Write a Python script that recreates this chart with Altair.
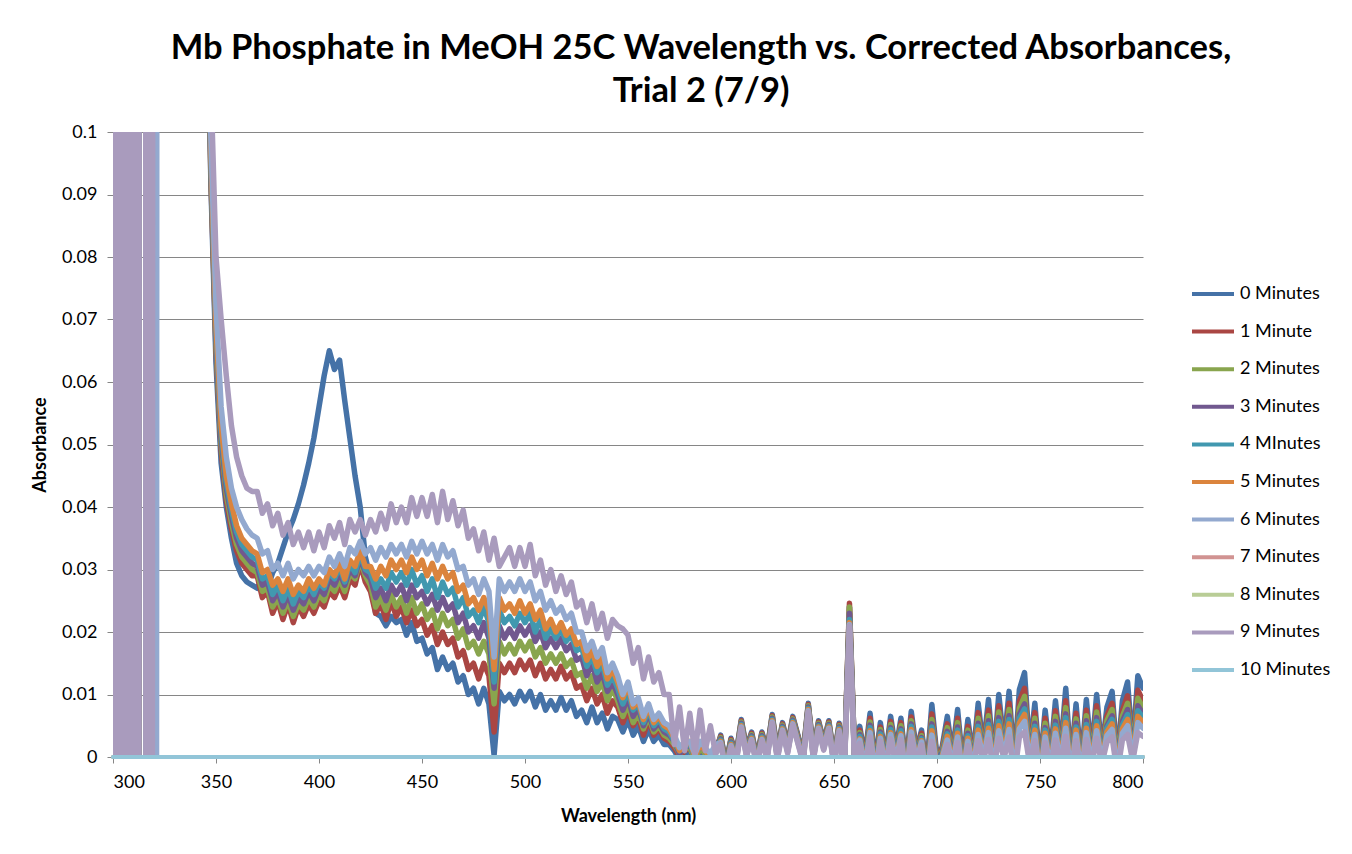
import numpy as np
import pandas as pd
import altair as alt

SERIES = ["0 Minutes", "1 Minute", "2 Minutes", "3 Minutes", "4 MInutes", "5 Minutes",
          "6 Minutes", "7 Minutes", "8 Minutes", "9 Minutes", "10 Minutes"]
COLORS = ["#4572A7", "#AA4643", "#89A54E", "#71588F", "#4198AF", "#DB843D",
          "#93A9CF", "#D19392", "#B9CD96", "#A99BBD", "#92C5D8"]

X_TICKS = [300, 350, 400, 450, 500, 550, 600, 650, 700, 750, 800]
Y_TICKS = [0, 0.01, 0.02, 0.03, 0.04, 0.05, 0.06, 0.07, 0.08, 0.09, 0.1]

# 300-344 nm (mAU): off-scale oscillation of the blank region
LEFT_WL = [300, 301, 302, 303, 304, 305, 306, 307, 308, 309, 310, 311, 312, 313,
           315.5, 316.5, 317.5, 318.5, 319.5, 320.5, 321.5,
           323, 324, 325, 326, 327, 328, 329, 330, 331, 332, 333, 334, 335, 336,
           337, 338, 339, 340, 341, 342, 343, 344]
LEFT_BAND = [-500, 500, -500, 500, -500, 500, -500, 500, -500, 500, -500, 500, -500, 500,
             500, -500, 500, -500, 300, 300, 300,
             300, 300, 300, 300, 300, 300, 300, 300, 300, 300, 300, 300, 300, 300,
             300, 300, 300, 300, 300, 300, 300, 300]
LEFT_BAND_6 = [-500, 500, -500, 500, -500, 500, -500, 500, -500, 500, -500, 500, -500, 500,
               500, -500, 500, -500, 500, -500, 300,
               300, 300, 300, 300, 300, 300, 300, 300, 300, 300, 300, 300, 300, 300,
               300, 300, 300, 300, 300, 300, 300, 300]
LEFT_ZERO = [0] * len(LEFT_WL)

# 345-800 nm, 2.5 nm steps (mAU)
MAIN_WL = [float(w) for w in np.arange(345.0, 800.001, 2.5)]

ABS_0 = [140, 92, 63, 47, 40, 35, 31, 29, 28, 27.5,
         27, 28.5, 27, 29.5, 31, 33.5, 36, 38, 40.5, 43.5,
         47, 51, 56, 61, 65, 62, 63.5, 57, 51, 45,
         40, 32, 28.5, 23, 22.5, 21, 22.5, 21.5, 22, 19.5,
         21.5, 18.5, 19, 16.5, 17.5, 14, 16, 14, 15, 12,
         13, 10, 11, 8.5, 11, 8.5, 0.3, 10.5, 9, 10,
         8.5, 10.5, 9, 10.5, 8, 10, 7.5, 9, 7.5, 9.5,
         7.5, 9, 6.5, 7.5, 5.5, 8, 5.5, 7, 4.5, 6.5,
         6, 4, 6, 3.5, 5, 2.5, 4.5, 2.5, 3.5, 2,
         2, 1, -0.5, 0.5, 1, -1, 1, 0, -1, 0.5,
         3.5, -1, 3, 0.5, 6, 1.5, 4, 0, 4, 1,
         6.8, 1, 5.5, 2, 6.5, 3.5, 0.5, 8.6, 1, 5.8,
         2.5, 5.8, 0, 5.4, -1, 24, 0.5, 4.9, 0, 7,
         -1, 5.5, 0, 6.5, 1, 6.2, -1.5, 7.3, 1, 4.3,
         -2, 8.4, 0, 1.6, 6.5, 0.5, 7.6, -1, 6, 0,
         8.6, 1.5, 9.2, 0, 10, 2, 10.5, -1, 10.8, 13.5,
         1, 8.6, -1.5, 7.5, 0, 9, 1, 11, -1, 8.5,
         -1, 9.2, 0.5, 10, 1, 8, 10.5, -0.5, 9, 12,
         1.5, 13, 11]

ABS_1 = [140, 93, 65, 49, 41, 36.5, 33, 31, 30, 29,
         29, 25.5, 26.5, 23, 25, 22, 24.5, 21.5, 24, 22.5,
         24.5, 23, 25, 24, 26.5, 25.5, 27.5, 25.5, 28.5, 27.5,
         31, 28, 26.5, 23, 24.5, 22, 25, 22.5, 24, 21.5,
         23.5, 21, 22, 19.5, 21, 18, 20, 18, 19, 16,
         17, 14, 15, 12.5, 15, 13, 4, 15, 13.5, 15,
         13.5, 15.5, 14, 15.5, 13, 15, 12.5, 14, 12.5, 14.5,
         12.5, 13.5, 11, 11.5, 9, 11, 8.5, 10, 7, 9,
         8, 5.5, 7.5, 5, 6.5, 3.5, 6, 3.5, 4.5, 3,
         2.5, 1.5, 0, 1, 1.5, -0.5, 1.5, 0.5, -0.5, 1,
         3.3, -1.2, 2.8, 0.3, 5.8, 1.3, 3.8, -0.2, 3.8, 0.8,
         6.6, 0.8, 5.3, 1.8, 6.3, 3.3, 0.3, 8.4, 0.8, 5.6,
         2.3, 5.6, -0.2, 5.2, -1.2, 24.6, 0.3, 4.3, -0.3, 6.2,
         -1.3, 4.8, -0.3, 5.7, 0.7, 5.5, -1.8, 6.4, 0.7, 3.8,
         -2.3, 6.9, -0.3, 1.3, 5.3, 0.2, 6.2, -1.3, 4.9, -0.3,
         7.1, 1.2, 7.5, -0.3, 8.2, 1.6, 8.6, -1.3, 8.9, 11.0,
         0.7, 7.1, -1.8, 6.2, -0.3, 7.4, 0.7, 9.0, -1.3, 7.0,
         -1.3, 7.5, 0.2, 8.2, 0.7, 6.6, 8.6, -0.8, 7.4, 9.8,
         1.2, 10.7, 9.0]

ABS_2 = [140, 94, 66, 50, 42, 37.5, 34, 32, 31, 30,
         29.5, 26.5, 27, 24, 25.5, 23, 25, 22.5, 24.5, 23.5,
         25.5, 24, 26, 25, 27.5, 26.5, 28.5, 26.5, 29.5, 28.5,
         31.5, 29, 27.5, 24, 25.5, 23.5, 26, 24, 25.5, 23,
         25.5, 23, 24.5, 22, 23.5, 20.5, 23, 21, 22, 19,
         20.5, 17.5, 18.5, 16.5, 18.5, 16.5, 8.5, 18.5, 16.5, 18,
         16.5, 18.5, 17, 18.5, 16, 17.5, 15, 16.5, 15, 16.5,
         14.5, 15.5, 13, 13.5, 11, 13, 10.5, 12, 9, 11,
         9, 6.5, 8.5, 5.5, 7, 4.5, 6.5, 4, 5, 3.5,
         3, 2, 0.5, 1.5, 1.5, -0.5, 1.5, 0.5, -0.5, 1,
         3.1, -1.4, 2.6, 0.1, 5.6, 1.1, 3.6, -0.4, 3.6, 0.6,
         6.4, 0.6, 5.1, 1.6, 6.1, 3.1, 0.1, 8.2, 0.6, 5.4,
         2.1, 5.4, -0.4, 5.0, -1.4, 24, 0.1, 3.9, -0.6, 5.6,
         -1.6, 4.4, -0.6, 5.2, 0.4, 5.0, -2.1, 5.8, 0.4, 3.4,
         -2.6, 6.0, -0.6, 1.0, 4.7, -0.1, 5.5, -1.6, 4.3, -0.6,
         6.2, 0.9, 6.6, -0.6, 7.2, 1.3, 7.6, -1.6, 7.8, 9.7,
         0.4, 6.2, -2.1, 5.4, -0.6, 6.5, 0.4, 7.9, -1.6, 6.1,
         -1.6, 6.6, -0.1, 7.2, 0.4, 5.8, 7.6, -1.1, 6.5, 8.6,
         0.9, 9.4, 7.9]

ABS_3 = [140, 95, 67, 51, 43, 38.5, 35, 33, 32, 31,
         30.5, 27.5, 28, 25, 26.5, 24, 26, 23.5, 25.5, 24.5,
         26.5, 25, 27, 26, 28.5, 27.5, 29.5, 27.5, 30, 29,
         32, 29.5, 28.5, 25.5, 27, 25, 27.5, 26, 27.5, 25,
         27.5, 25.5, 26.5, 24.5, 26, 23.5, 25.5, 23.5, 24.5, 21.5,
         23, 20, 21, 19, 21.5, 19, 11, 21, 19, 20.5,
         19, 21, 19.5, 21, 18.5, 20, 17.5, 19, 17.5, 19,
         17, 18, 15.5, 16, 13, 15, 12, 13.5, 10.5, 12,
         10, 7.5, 9.5, 6.5, 8, 5, 7, 4.5, 5.5, 4,
         3.5, 2.5, 0.5, 1.5, 2, 0, 2, 1, 0, 1.5,
         2.9, -1.6, 2.4, -0.1, 5.4, 0.9, 3.4, -0.6, 3.4, 0.4,
         6.2, 0.4, 4.9, 1.4, 5.9, 2.9, -0.1, 8.0, 0.4, 5.2,
         1.9, 5.2, -0.6, 4.8, -1.6, 23, -0.1, 3.6, -0.9, 5.1,
         -1.9, 4.0, -0.9, 4.7, 0.1, 4.5, -2.4, 5.3, 0.1, 3.1,
         -2.9, 5.3, -0.9, 0.7, 4.1, -0.4, 4.8, -1.9, 3.8, -0.9,
         5.4, 0.6, 5.8, -0.9, 6.3, 1.0, 6.6, -1.9, 6.8, 8.5,
         0.1, 5.4, -2.4, 4.7, -0.9, 5.7, 0.1, 6.9, -1.9, 5.4,
         -1.9, 5.8, -0.4, 6.3, 0.1, 5.0, 6.6, -1.4, 5.7, 7.6,
         0.6, 8.2, 6.9]

ABS_4 = [140, 96, 68, 52, 44, 39.5, 36, 34, 33, 32,
         31.5, 28.5, 29, 26, 27.5, 25, 27, 24.5, 26.5, 25.5,
         27.5, 26, 28, 27, 29.5, 28.5, 30.5, 28, 31, 29.5,
         32.5, 30, 29.5, 27, 28.5, 27, 29.5, 28, 29.5, 27.5,
         30, 27.5, 29, 26.5, 28.5, 25.5, 28, 26, 27, 24,
         25.5, 22.5, 23.5, 21.5, 24, 21.5, 12, 23.5, 21.5, 22.5,
         21, 23, 21.5, 23, 20, 22, 19, 20.5, 19, 20.5,
         18.5, 19.5, 17, 17.5, 14.5, 16, 13.5, 15, 11.5, 13,
         11, 8.5, 10.5, 7.5, 8.5, 5.5, 7.5, 5, 6, 4.5,
         4, 2.5, 1, 2, 2, 0, 2, 1, 0, 1.5,
         2.7, -1.8, 2.2, -0.3, 5.2, 0.7, 3.2, -0.8, 3.2, 0.2,
         6.0, 0.2, 4.7, 1.2, 5.7, 2.7, -0.3, 7.8, 0.2, 5.0,
         1.7, 5.0, -0.8, 4.6, -1.8, 22, -0.3, 3.3, -1.2, 4.7,
         -2.2, 3.7, -1.2, 4.4, -0.2, 4.2, -2.7, 4.9, -0.2, 2.9,
         -3.2, 4.8, -1.2, 0.4, 3.7, -0.7, 4.3, -2.2, 3.4, -1.2,
         4.9, 0.3, 5.2, -1.2, 5.7, 0.7, 6.0, -2.2, 6.2, 7.7,
         -0.2, 4.9, -2.7, 4.3, -1.2, 5.1, -0.2, 6.3, -2.2, 4.8,
         -2.2, 5.2, -0.7, 5.7, -0.2, 4.6, 6.0, -1.7, 5.1, 6.8,
         0.3, 7.4, 6.3]

ABS_5 = [140, 97, 69, 53, 45, 40.5, 37, 35, 34, 33,
         32.5, 29.5, 30, 27.5, 28.5, 26.5, 28.5, 26, 27.5, 26.5,
         28.5, 27, 28.5, 27.5, 30, 29, 31, 28.5, 31.5, 30.5,
         33, 30.5, 30.5, 28.5, 30.5, 29, 31.5, 30, 31.5, 29.5,
         32, 30, 31.5, 29, 31, 28.5, 30.5, 28.5, 29.5, 26.5,
         27.5, 24.5, 25.5, 23.5, 25.5, 23.5, 14, 25.5, 23.5, 24.5,
         23, 25, 23, 24.5, 22, 23.5, 20.5, 22, 20, 21.5,
         19.5, 20.5, 18, 18.5, 15.5, 17, 14.5, 16, 12.5, 14,
         12, 9.5, 11.5, 8, 9, 6, 8, 5.5, 6.5, 5,
         4.5, 3, 1, 2, 2.5, 0, 2, 1, 0, 1.5,
         2.5, -2, 2, -0.5, 5, 0.5, 3, -1, 3, 0,
         5.8, 0, 4.5, 1.0, 5.5, 2.5, -0.5, 7.6, 0, 4.8,
         1.5, 4.8, -1.0, 4.4, -2.0, 21.5, -0.5, 2.9, -1.5, 4.2,
         -2.5, 3.3, -1.5, 3.9, -0.5, 3.7, -3.0, 4.4, -0.5, 2.6,
         -3.5, 4.2, -1.5, 0.1, 3.3, -1.0, 3.8, -2.5, 3.0, -1.5,
         4.3, 0.0, 4.6, -1.5, 5.0, 0.4, 5.3, -2.5, 5.4, 6.8,
         -0.5, 4.3, -3.0, 3.8, -1.5, 4.5, -0.5, 5.5, -2.5, 4.3,
         -2.5, 4.6, -1.0, 5.0, -0.5, 4.0, 5.3, -2.0, 4.5, 6.0,
         0.0, 6.5, 5.5]

ABS_6 = [140, 99, 72, 56, 48, 43, 40, 38, 36.5, 35.5,
         35, 32.5, 33, 30, 31, 29, 31, 28.5, 30, 29,
         30.5, 29, 30.5, 29.5, 32, 30.5, 32.5, 30.5, 33.5, 32.5,
         34.5, 32.5, 33.5, 31.5, 33.5, 32, 34, 32.5, 34, 32,
         34.5, 32.5, 34.5, 32.5, 34, 31.5, 34, 32, 33, 30,
         30.5, 27.5, 28.5, 26, 28.5, 26.5, 16, 28.5, 26.5, 28,
         26.5, 28.5, 26.5, 28, 25, 26.5, 23.5, 25, 23, 24,
         22, 23, 20, 20, 17, 18.5, 16, 17.5, 13.5, 15,
         13, 10, 12, 8.5, 9.5, 6.5, 8.5, 6, 7, 5.5,
         5, 3.5, 1.5, 2.5, 2.5, 0.5, 2.5, 1.5, 0.5, 2,
         2.3, -2.2, 1.8, -0.7, 4.8, 0.3, 2.8, -1.2, 2.8, -0.2,
         5.6, -0.2, 4.3, 0.8, 5.3, 2.3, -0.7, 7.4, -0.2, 4.6,
         1.3, 4.6, -1.2, 4.2, -2.2, 21.2, -0.7, 2.7, -1.8, 3.9,
         -2.8, 3.0, -1.8, 3.6, -0.8, 3.4, -3.3, 4.0, -0.8, 2.4,
         -3.8, 3.5, -1.8, -0.2, 2.7, -1.3, 3.2, -2.8, 2.5, -1.8,
         3.6, -0.3, 3.9, -1.8, 4.2, 0.1, 4.4, -2.8, 4.5, 5.7,
         -0.8, 3.6, -3.3, 3.2, -1.8, 3.8, -0.8, 4.6, -2.8, 3.6,
         -2.8, 3.9, -1.3, 4.2, -0.8, 3.4, 4.4, -2.3, 3.8, 5.0,
         -0.3, 5.5, 4.6]

ABS_9 = [150, 108, 80, 70, 61, 53, 48, 45, 43, 42.5,
         42.5, 39, 40.5, 37, 39, 35.5, 37.5, 34, 36, 33.5,
         36, 33, 36, 33.5, 37, 35, 37.5, 34, 38, 36,
         38, 35.5, 38, 36, 39, 36.5, 40.5, 37.5, 40, 37.5,
         41.5, 38.5, 41.5, 38.5, 42, 37.5, 42.5, 38, 41, 37,
         39.5, 35, 36.5, 33, 36, 31.5, 35, 30.5, 32, 33.5,
         30.5, 33.5, 30.5, 34, 29, 31.5, 27.5, 30, 26.5, 29,
         26, 28, 24, 25, 21.5, 24.5, 20.5, 23, 19, 22,
         21, 20.5, 19.5, 15, 17.5, 12.5, 16, 12, 13.5, 10,
         10, 2, 8, 1, 7, 0.5, 7.5, 1, 5, 0.5,
         2.1, -2.4, 1.6, -0.9, 4.6, 0.1, 2.6, -1.4, 2.6, -0.4,
         5.4, -0.4, 4.1, 0.6, 5.1, 2.1, -0.9, 7.2, -0.4, 4.4,
         1.1, 4.4, -1.4, 4.0, -2.4, 21, -0.9, 2.2, -2.1, 3.2,
         -3.1, 2.5, -2.1, 2.9, -1.1, 2.8, -3.6, 3.3, -1.1, 1.9,
         -4.1, 2.5, -2.1, -0.5, 2.0, -1.6, 2.3, -3.1, 1.8, -2.1,
         2.6, -0.6, 2.8, -2.1, 3.0, -0.2, 3.2, -3.1, 3.2, 4.0,
         -1.1, 2.6, -3.6, 2.3, -2.1, 2.7, -1.1, 3.3, -3.1, 2.6,
         -3.1, 2.8, -1.6, 3.0, -1.1, 2.4, 3.2, -2.6, 2.7, 3.6,
         -0.6, 3.9, 3.3]

MAIN_ZERO = [0] * len(MAIN_WL)

MAIN = {0: ABS_0, 1: ABS_1, 2: ABS_2, 3: ABS_3, 4: ABS_4, 5: ABS_5, 6: ABS_6, 9: ABS_9}
for k, v in MAIN.items():
    assert len(v) == len(MAIN_WL), (k, len(v), len(MAIN_WL))
assert len(LEFT_BAND) == len(LEFT_WL) == len(LEFT_BAND_6)

rows = []
for i, name in enumerate(SERIES):
    if i in (7, 8, 10):
        left, main = LEFT_ZERO, MAIN_ZERO
    elif i == 6:
        left, main = LEFT_BAND_6, MAIN[6]
    else:
        left, main = LEFT_BAND, MAIN[i]
    for w, v in zip(LEFT_WL + MAIN_WL, left + main):
        rows.append({"wl": float(w), "absorb": v / 1000.0, "series": name})
df = pd.DataFrame(rows)

FONT = "Lato"

color = alt.Color(
    "series:N",
    scale=alt.Scale(domain=SERIES, range=COLORS),
    sort=SERIES,
    legend=alt.Legend(
        title=None, orient="none", legendX=1077, legendY=147,
        symbolType="stroke", symbolSize=1764, symbolStrokeWidth=4,
        labelFont=FONT, labelFontSize=18, labelColor="black", labelOffset=4,
        rowPadding=7.6, clipHeight=30, padding=0,
    ),
)

x = alt.X("wl:Q", scale=alt.Scale(domain=[300, 800], nice=False, zero=False),
          axis=alt.Axis(values=X_TICKS, title="Wavelength (nm)", grid=False,
                        tickSize=6, labelPadding=10, titlePadding=16))
y = alt.Y("absorb:Q", scale=alt.Scale(domain=[0, 0.1], nice=False),
          axis=alt.Axis(values=Y_TICKS, format="~g", title="Absorbance", grid=True,
                        tickSize=6, labelPadding=10, titlePadding=12))

layers = []
for i, name in enumerate(SERIES):
    flat = i in (7, 8, 10)
    layers.append(
        alt.Chart(df)
        .transform_filter(alt.datum.series == name)
        .mark_line(strokeWidth=4 if flat else 5.5, strokeCap="round",
                   strokeJoin="round", clip=not flat)
        .encode(x=x, y=y, color=color, order="wl:Q")
    )

chart = (
    alt.layer(*layers)
    .properties(
        width=1030, height=625,
        padding={"left": 105, "top": 124, "right": 190, "bottom": 80},
        autosize=alt.AutoSizeParams(type="none"),
        title=alt.TitleParams(
            text=["Mb Phosphate in MeOH 25C Wavelength vs. Corrected Absorbances,", "Trial 2 (7/9)"],
            font=FONT, fontSize=34.5, fontWeight="bold", color="black",
            anchor="middle", dx=73, offset=14, lineHeight=43,
        ),
    )
    .configure_view(stroke=None)
    .configure_axis(
        labelFont=FONT, labelFontSize=18, labelColor="black",
        titleFont=FONT, titleFontSize=18, titleFontWeight="bold", titleColor="black",
        domainColor="#868686", tickColor="#868686", gridColor="#868686",
        domainWidth=1, tickWidth=1, gridWidth=1,
    )
)

chart.save("out.html", embed_options={"renderer": "svg", "actions": False})
